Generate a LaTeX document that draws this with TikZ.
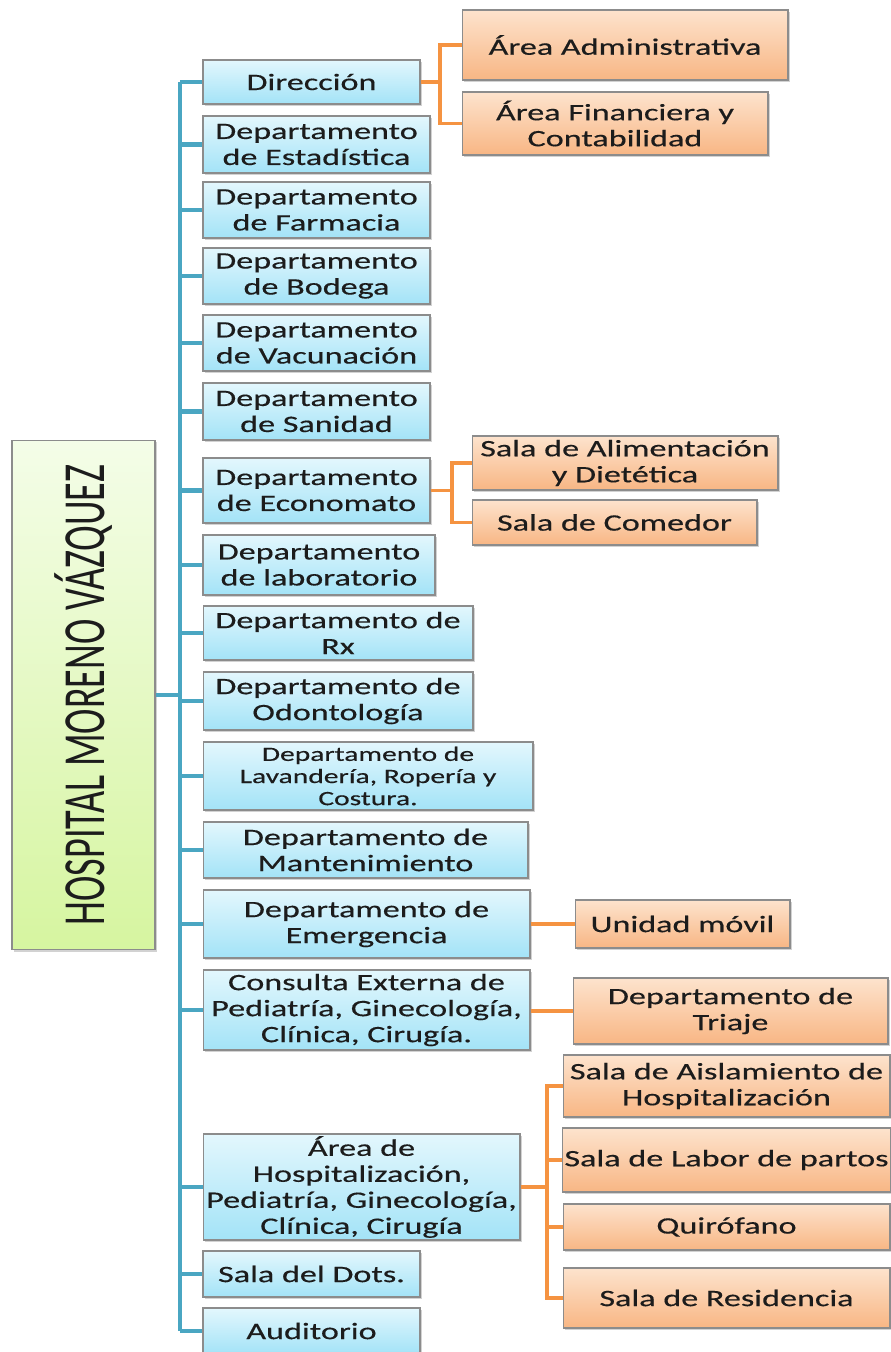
\documentclass[tikz,border=0pt]{standalone}
\usepackage{fontspec}
\setmainfont{Carlito}[FakeStretch=1.45,FakeBold=0.4]
\newfontfamily\titlefont{Carlito}[FakeStretch=0.64]
\usepackage{graphicx}
\usetikzlibrary{shadows}
\definecolor{bluetop}{HTML}{E3F7FD}
\definecolor{bluebot}{HTML}{A3E3F7}
\definecolor{orgtop}{HTML}{FDE3CD}
\definecolor{orgbot}{HTML}{F8B684}
\definecolor{greentop}{HTML}{F4FDE8}
\definecolor{greenbot}{HTML}{D6F5A0}
\definecolor{edgegray}{HTML}{8C8C8C}
\definecolor{blueline}{HTML}{4AA6C2}
\definecolor{orgline}{HTML}{F59341}
\definecolor{txt}{HTML}{1C1C1C}
\tikzset{
  box/.style={draw=edgegray, line width=0.6pt, inner sep=1pt, align=center, text=txt,
    font=\fontsize{13.4}{14.8}\selectfont,
    drop shadow={shadow xshift=1.2pt, shadow yshift=-1.2pt, opacity=0.35}},
  bluebox/.style={box, top color=bluetop, bottom color=bluebot},
  orgbox/.style={box, top color=orgtop, bottom color=orgbot},
  bline/.style={draw=blueline, line width=2.3pt},
  oline/.style={draw=orgline, line width=2.2pt}
}
\begin{document}
\begin{tikzpicture}[x=0.02cm,y=-0.02cm]
\useasboundingbox[fill=white] (0,0) rectangle (890,1352);

% title
\node[box, top color=greentop, bottom color=greenbot, minimum width=2.86cm, minimum height=10.2cm,
  font=\titlefont\fontsize{34}{36}\selectfont] (hosp) at (83.5,695)
  {\rotatebox{90}{HOSPITAL MORENO VÁZQUEZ}};

% departments
\node[bluebox, minimum width=4.34cm, minimum height=0.88cm] (dir) at (311.5,82) {Dirección};
\node[bluebox, minimum width=4.54cm, minimum height=1.14cm] (est) at (316.5,144.5) {Departamento\\de Estadística};
\node[bluebox, minimum width=4.54cm, minimum height=1.12cm] (far) at (316.5,210) {Departamento\\de Farmacia};
\node[bluebox, minimum width=4.54cm, minimum height=1.12cm] (bod) at (316.5,276) {Departamento\\de Bodega};
\node[bluebox, minimum width=4.54cm, minimum height=1.12cm] (vac) at (316.5,343) {Departamento\\de Vacunación};
\node[bluebox, minimum width=4.54cm, minimum height=1.14cm] (san) at (316.5,411.5) {Departamento\\de Sanidad};
\node[bluebox, minimum width=4.54cm, minimum height=1.30cm] (eco) at (316.5,490.5) {Departamento\\de Economato};
\node[bluebox, minimum width=4.64cm, minimum height=1.20cm] (lab) at (319,565) {Departamento\\de laboratorio};
\node[bluebox, minimum width=5.40cm, minimum height=1.08cm] (rx) at (338,633) {Departamento de\\Rx};
\node[bluebox, minimum width=5.40cm, minimum height=1.16cm] (odo) at (338,701) {Departamento de\\Odontología};
\node[bluebox, minimum width=6.60cm, minimum height=1.36cm, font=\fontsize{11.6}{12.6}\selectfont] (lav) at (368,776)
  {Departamento de\\Lavandería, Ropería y\\Costura.};
\node[bluebox, minimum width=6.50cm, minimum height=1.12cm] (man) at (365.5,850) {Departamento de\\Mantenimiento};
\node[bluebox, minimum width=6.54cm, minimum height=1.36cm] (eme) at (366.5,924) {Departamento de\\Emergencia};
\node[bluebox, minimum width=6.54cm, minimum height=1.60cm] (con) at (366.5,1010)
  {Consulta Externa de\\Pediatría, Ginecología,\\Clínica, Cirugía.};
\node[bluebox, minimum width=6.34cm, minimum height=2.12cm] (hosa) at (361.5,1187)
  {Área de\\Hospitalización,\\Pediatría, Ginecología,\\Clínica, Cirugía};
\node[bluebox, minimum width=4.34cm, minimum height=0.92cm] (dots) at (311.5,1274) {Sala del Dots.};
\node[bluebox, minimum width=4.34cm, minimum height=0.92cm] (aud) at (311.5,1331) {Auditorio};

% areas and salas
\node[orgbox, minimum width=6.52cm, minimum height=1.40cm] (adm) at (625,45) {Área Administrativa};
\node[orgbox, minimum width=6.12cm, minimum height=1.26cm] (fin) at (615,123.5) {Área Financiera y\\Contabilidad};
\node[orgbox, minimum width=6.12cm, minimum height=1.08cm] (ali) at (625,463) {Sala de Alimentación\\y Dietética};
\node[orgbox, minimum width=5.70cm, minimum height=0.90cm] (com) at (614.5,522.5) {Sala de Comedor};
\node[orgbox, minimum width=4.30cm, minimum height=0.96cm] (mov) at (682.5,924) {Unidad móvil};
\node[orgbox, minimum width=6.30cm, minimum height=1.32cm] (tri) at (730.5,1011) {Departamento de\\Triaje};
\node[orgbox, minimum width=6.54cm, minimum height=1.24cm] (ais) at (726.5,1086) {Sala de Aislamiento de\\Hospitalización};
\node[orgbox, minimum width=6.54cm, minimum height=1.28cm] (par) at (726.5,1160) {Sala de Labor de partos};
\node[orgbox, minimum width=6.54cm, minimum height=0.92cm] (qui) at (726.5,1227) {Quirófano};
\node[orgbox, minimum width=6.54cm, minimum height=1.20cm] (res) at (726.5,1298) {Sala de Residencia};

% trunk
\coordinate (trunk) at (180,0);
\coordinate (j1) at (440,0);
\coordinate (j2) at (452,0);
\coordinate (j3) at (547,0);
\draw[bline] (hosp.east) -- (trunk |- hosp.east);
\draw[bline] (trunk |- dir.west) -- (trunk |- aud.west);
\foreach \n in {dir,est,far,bod,vac,san,eco,lab,rx,odo,lav,man,eme,con,hosa,dots,aud}
  \draw[bline] (trunk |- \n.west) -- (\n.west);

% branches
\draw[oline] (dir.east) -- (j1 |- dir.east);
\draw[oline] (adm.west) -| (j1 |- fin.west) -- (fin.west);
\draw[oline] (eco.east) -- (j2 |- eco.east);
\draw[oline] (ali.west) -| (j2 |- com.west) -- (com.west);
\draw[oline] (eme.east) -- (mov.west);
\draw[oline] (con.east |- tri.west) -- (tri.west);
\draw[oline] (hosa.east) -- (j3 |- hosa.east);
\draw[oline] (ais.west) -| (j3 |- res.west) -- (res.west);
\foreach \n in {par,qui}
  \draw[oline] (j3 |- \n.west) -- (\n.west);
\end{tikzpicture}
\end{document}
